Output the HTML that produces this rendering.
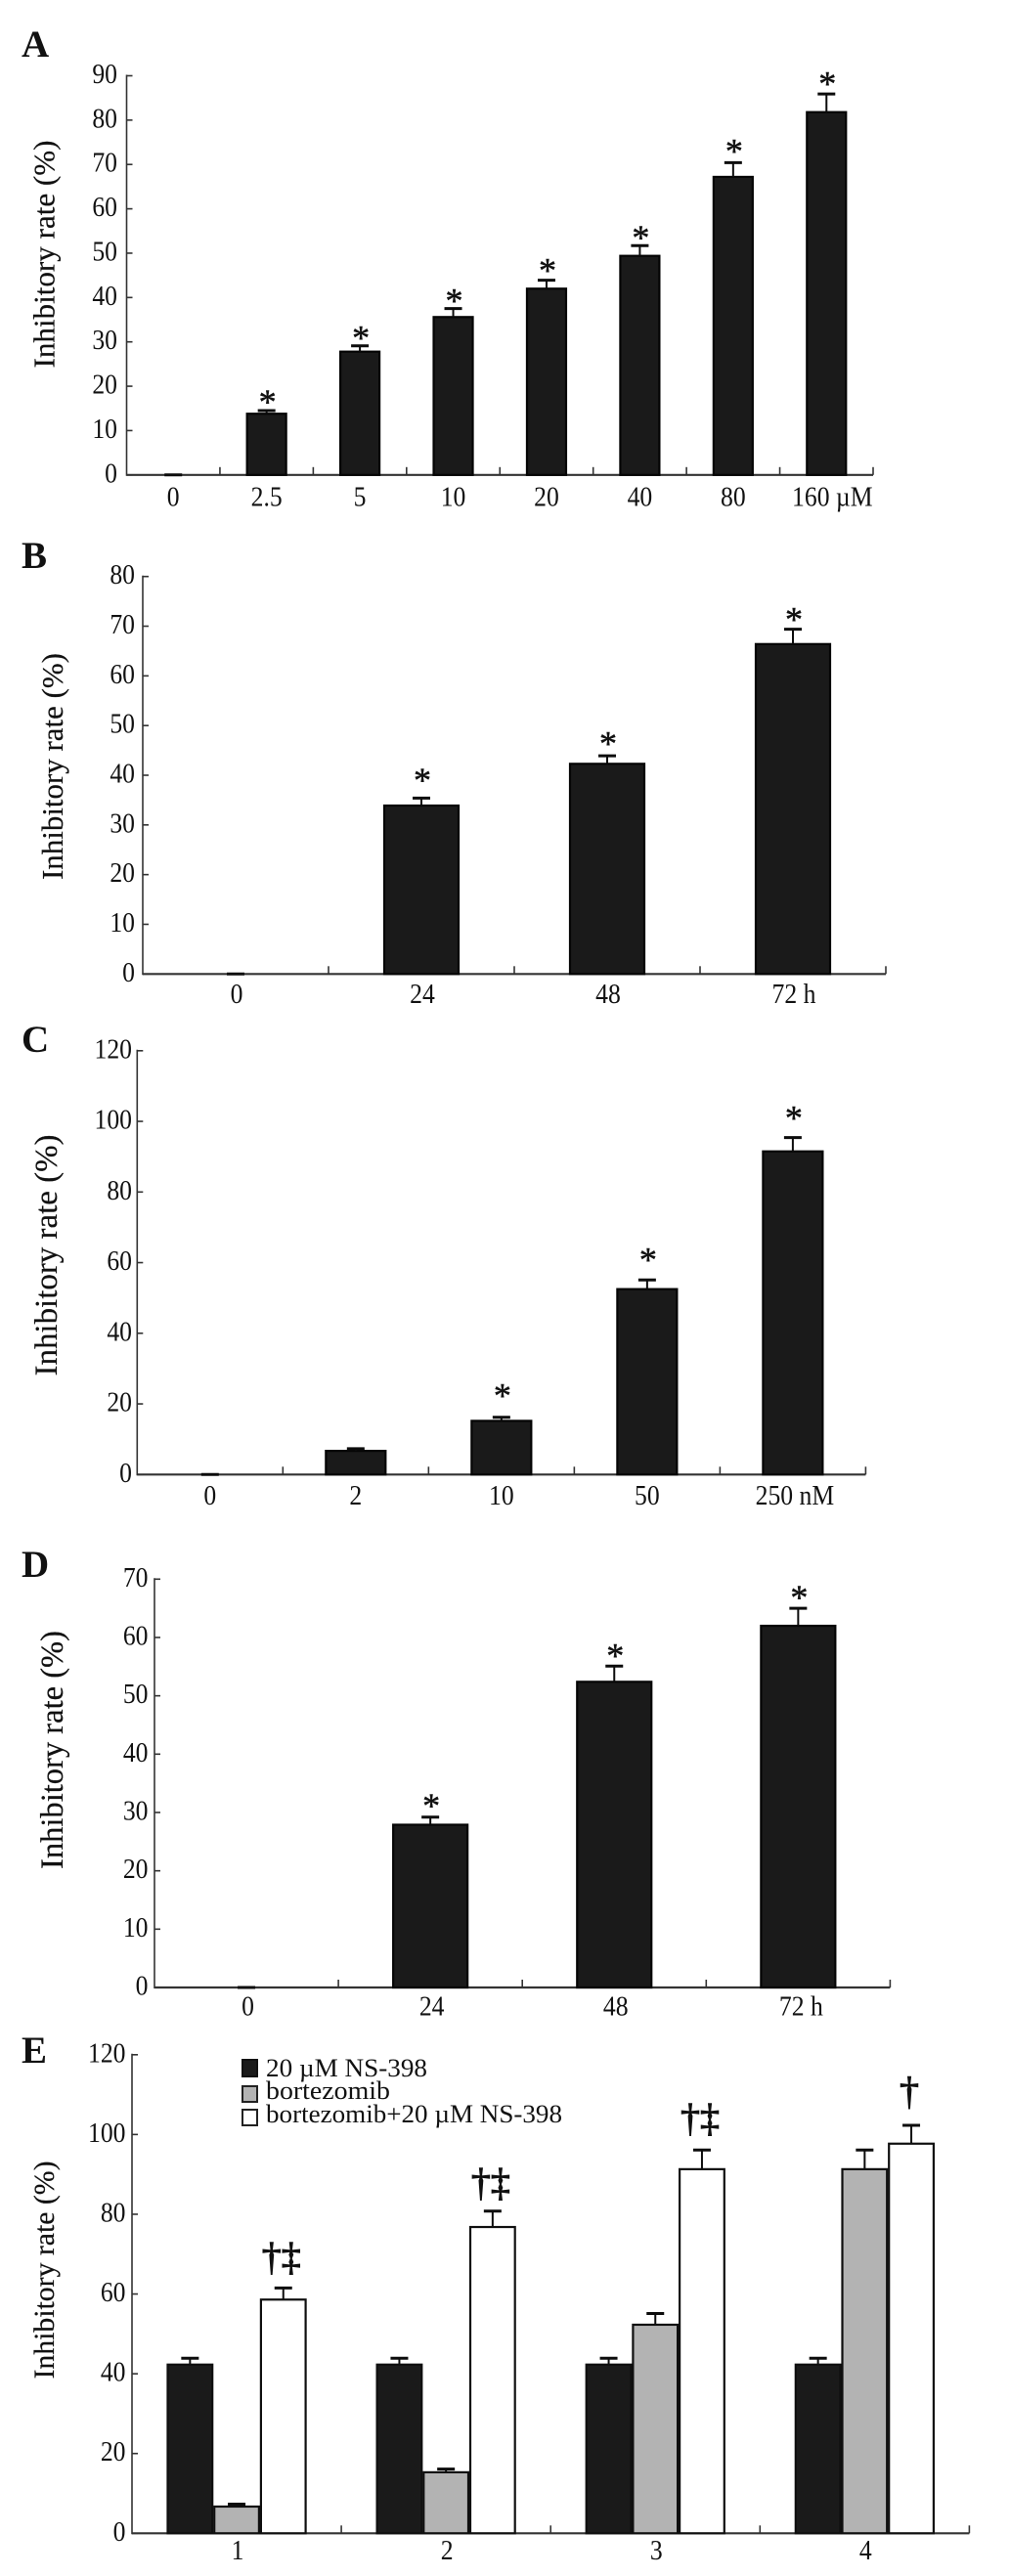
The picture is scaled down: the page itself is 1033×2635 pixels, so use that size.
<!DOCTYPE html>
<html lang="en">
<head>
<meta charset="utf-8">
<title>Inhibitory rate charts</title>
<style>
html,body{margin:0;padding:0;background:#fff;width:1033px;height:2635px;overflow:hidden}
svg{display:block;filter:blur(0.35px)}
text{font-family:"Liberation Serif","DejaVu Serif",serif;fill:#111}
</style>
</head>
<body>
<svg id="figure" xmlns="http://www.w3.org/2000/svg" width="1033" height="2635" viewBox="0 0 1033 2635">
  <rect x="0" y="0" width="1033" height="2635" fill="#fff"/>
  <text x="22" y="58" font-size="39" font-weight="bold">A</text>
  <text x="22" y="581" font-size="39" font-weight="bold">B</text>
  <text x="22" y="1076" font-size="39" font-weight="bold">C</text>
  <text x="22" y="1613" font-size="39" font-weight="bold">D</text>
  <text x="22" y="2110" font-size="39" font-weight="bold">E</text>
  <text transform="translate(55.7 260) rotate(-90)" text-anchor="middle" font-size="31" stroke="#111" stroke-width="0.2" textLength="233" lengthAdjust="spacingAndGlyphs">Inhibitory rate (%)</text>
  <text transform="translate(64 784) rotate(-90)" text-anchor="middle" font-size="31" stroke="#111" stroke-width="0.2" textLength="232" lengthAdjust="spacingAndGlyphs">Inhibitory rate (%)</text>
  <text transform="translate(58 1284) rotate(-90)" text-anchor="middle" font-size="33" stroke="#111" stroke-width="0.2" textLength="247" lengthAdjust="spacingAndGlyphs">Inhibitory rate (%)</text>
  <text transform="translate(64 1790) rotate(-90)" text-anchor="middle" font-size="32.5" stroke="#111" stroke-width="0.2" textLength="244" lengthAdjust="spacingAndGlyphs">Inhibitory rate (%)</text>
  <text transform="translate(55 2322) rotate(-90)" text-anchor="middle" font-size="30" stroke="#111" stroke-width="0.2" textLength="223" lengthAdjust="spacingAndGlyphs">Inhibitory rate (%)</text>
  <g>
    <rect x="248" y="2107" width="15" height="17" fill="#1a1a1a" stroke="#111" stroke-width="2"/>
    <text x="272" y="2124" font-size="26" textLength="165" lengthAdjust="spacingAndGlyphs">20 µM NS-398</text>
    <rect x="248" y="2134" width="15" height="16" fill="#b3b3b3" stroke="#222" stroke-width="2"/>
    <text x="272" y="2147" font-size="26" textLength="127" lengthAdjust="spacingAndGlyphs">bortezomib</text>
    <rect x="248" y="2158" width="15" height="16" fill="#fff" stroke="#222" stroke-width="2"/>
    <text x="272" y="2171" font-size="26" textLength="303" lengthAdjust="spacingAndGlyphs">bortezomib+20 µM NS-398</text>
  </g>
</svg>
<script>
// Panel A
const aCategories = ['0', '2.5', '5', '10', '20', '40', '80', '160 µM'];
const aValues = [0, 13.8, 27.8, 35.6, 42.0, 49.4, 67.2, 81.8];
const aErrors = [0, 0.7, 1.3, 1.9, 1.9, 2.3, 3.2, 4.1];
const aStarGaps = [null, 3.1, 2.9, 2.9, 3.3, 2.9, 3.7, 3.4];
const aTicks = [0, 10, 20, 30, 40, 50, 60, 70, 80, 90];

// Panel B
const bCategories = ['0', '24', '48', '72 h'];
const bValues = [0, 33.9, 42.3, 66.4];
const bErrors = [0, 1.5, 1.6, 3.0];
const bStarGaps = [null, 4.6, 3.5, 3.0];
const bTicks = [0, 10, 20, 30, 40, 50, 60, 70, 80];

// Panel C
const cCategories = ['0', '2', '10', '50', '250 nM'];
const cValues = [0, 6.7, 15.2, 52.5, 91.5];
const cErrors = [0, 0.6, 1.0, 2.6, 3.9];
const cStarGaps = [null, null, 7.6, 7.1, 7.0];
const cTicks = [0, 20, 40, 60, 80, 100, 120];

// Panel D
const dCategories = ['0', '24', '48', '72 h'];
const dValues = [0, 27.9, 52.4, 62.0];
const dErrors = [0, 1.3, 2.7, 3.0];
const dStarGaps = [null, 2.8, 2.6, 2.7];
const dTicks = [0, 10, 20, 30, 40, 50, 60, 70];

// Panel E
const eCategories = ['1', '2', '3', '4'];
const eControlValues = [42.3, 42.3, 42.3, 42.3];
const eControlErrors = [1.6, 1.6, 1.6, 1.6];
const eBortezomibValues = [6.7, 15.3, 52.3, 91.3];
const eBortezomibErrors = [0.6, 0.8, 2.8, 4.8];
const eCombinationValues = [58.6, 76.8, 91.3, 97.7];
const eCombinationErrors = [2.9, 4.0, 4.8, 4.6];
const eMarkers = ['†‡', '†‡', '†‡', '†'];
const eMarkerGaps = [7.0, 6.3, 7.2, 7.7];
const eTicks = [0, 20, 40, 60, 80, 100, 120];

const svg = document.getElementById('figure');
const NS = 'http://www.w3.org/2000/svg';
const AXIS = '#333';
const INK = '#0c0c0c';

function mk(parent, tag, attrs, name, content) {
  const el = document.createElementNS(NS, tag);
  for (const k in attrs) el.setAttribute(k, attrs[k]);
  
  
  if (content !== undefined) el.textContent = content;
  parent.appendChild(el);
  return el;
}

function line(parent, x1, y1, x2, y2, stroke, width, name) {
  return mk(parent, 'line', { x1: x1, y1: y1, x2: x2, y2: y2, stroke: stroke, 'stroke-width': width }, name);
}

function label(parent, x, y, anchor, content, name) {
  return mk(parent, 'text', {
    transform: 'translate(' + x + ' ' + y + ') scale(0.9 1)',
    'text-anchor': anchor,
    'font-size': 28.5
  }, name, content);
}

function axes(key, cfg, ticks, categories) {
  const g = mk(svg, 'g', {}, 'chart-' + key);
  const yScale = function (v) { return cfg.y0 - (v - ticks[0]) * (cfg.y0 - cfg.yTop) / (ticks[ticks.length - 1] - ticks[0]); };
  const band = (cfg.x1 - cfg.x0) / categories.length;
  const xScale = function (i) { return cfg.x0 + band * (i + 0.5); };
  return { g: g, yScale: yScale, xScale: xScale, band: band };
}

function drawAxes(key, cfg, ticks, categories, ctx) {
  const g = ctx.g;
  line(g, cfg.x0, cfg.yTop - 1, cfg.x0, cfg.y0 + 1, AXIS, 1.6, 'y-axis-' + key);
  line(g, cfg.x0, cfg.y0, cfg.x1, cfg.y0, AXIS, 2.2, 'x-axis-' + key);
  ticks.forEach(function (t) {
    const y = ctx.yScale(t);
    line(g, cfg.x0, y, cfg.x0 + 6, y, AXIS, 1.6, 'y-tick-' + key + '-' + t);
    label(g, cfg.yLabelX, y + 7.5, 'end', String(t), 'y-tick-label-' + key + '-' + t);
  });
  categories.forEach(function (c, i) {
    const edge = cfg.x0 + ctx.band * (i + 1);
    line(g, edge, cfg.y0, edge, cfg.y0 - 8, AXIS, 1.6, 'x-tick-' + key + '-' + i);
    const shift = i === categories.length - 1 ? cfg.lastShift : cfg.shift;
    label(g, ctx.xScale(i) + shift, cfg.xLabelY, 'middle', c, 'x-tick-label-' + key + '-' + c);
  });
}

function errorBar(g, x, value, err, yScale, name) {
  const top = yScale(value + err);
  line(g, x, yScale(value), x, top, INK, 2, name + '-stem');
  line(g, x - 9, top, x + 9, top, INK, 3, name + '-cap');
}

function drawSimple(key, cfg, categories, values, errors, gaps, ticks) {
  const ctx = axes(key, cfg, ticks, categories);
  drawAxes(key, cfg, ticks, categories, ctx);
  categories.forEach(function (c, i) {
    const cx = ctx.xScale(i);
    if (values[i] > 0) {
      const yt = ctx.yScale(values[i]);
      mk(ctx.g, 'rect', {
        x: cx - cfg.barW / 2 + 1, y: yt, width: cfg.barW - 2, height: cfg.y0 - yt,
        fill: '#1a1a1a', stroke: '#050505', 'stroke-width': 2.2
      }, 'bar-' + key + '-' + c);
    }
    errorBar(ctx.g, cx, values[i], errors[i], ctx.yScale, 'error-' + key + '-' + c);
    if (gaps[i] !== null) {
      mk(ctx.g, 'text', {
        x: cx + 1, y: ctx.yScale(values[i] + errors[i] + gaps[i]) + 17,
        'text-anchor': 'middle', 'font-size': 36, stroke: '#111', 'stroke-width': 0.5
      }, 'significance-star-' + key + '-' + c, '*');
    }
  });
}

function drawGrouped() {
  const key = 'e';
  const cfg = { x0: 135, x1: 991.4, y0: 2591.3, yTop: 2101.8, yLabelX: 128.5, xLabelY: 2618, shift: 1, lastShift: 1 };
  const ctx = axes(key, cfg, eTicks, eCategories);
  drawAxes(key, cfg, eTicks, eCategories, ctx);
  const barW = 47.7;
  const series = [
    { id: 'control', values: eControlValues, errors: eControlErrors, fill: '#1a1a1a' },
    { id: 'bortezomib', values: eBortezomibValues, errors: eBortezomibErrors, fill: '#b3b3b3' },
    { id: 'combination', values: eCombinationValues, errors: eCombinationErrors, fill: '#fff' }
  ];
  eCategories.forEach(function (c, i) {
    const cx = ctx.xScale(i);
    series.forEach(function (s, j) {
      const bx = cx + (j - 1) * barW;
      const yt = ctx.yScale(s.values[i]);
      errorBar(ctx.g, bx, s.values[i], s.errors[i], ctx.yScale, 'error-' + s.id + '-' + c);
      mk(ctx.g, 'rect', {
        x: bx - barW / 2 + 1, y: yt, width: barW - 2, height: cfg.y0 - yt,
        fill: s.fill, stroke: '#0f0f0f', 'stroke-width': 2.2
      }, 'bar-' + s.id + '-' + c);
    });
    const wx = cx + barW;
    const top = eCombinationValues[i] + eCombinationErrors[i] + eMarkerGaps[i];
    mk(ctx.g, 'text', {
      x: wx - 2, y: ctx.yScale(top) + 10,
      'text-anchor': 'middle', 'font-size': 40, stroke: '#111', 'stroke-width': 1
    }, 'significance-marker-' + c, eMarkers[i]);
  });
}

drawSimple('a', { x0: 129.5, x1: 893, y0: 485.8, yTop: 77.5, barW: 42, yLabelX: 120, xLabelY: 517.7, shift: 0, lastShift: 6 }, aCategories, aValues, aErrors, aStarGaps, aTicks);
drawSimple('b', { x0: 146, x1: 906, y0: 996.3, yTop: 589.7, barW: 78, yLabelX: 138, xLabelY: 1026, shift: 1, lastShift: 1 }, bCategories, bValues, bErrors, bStarGaps, bTicks);
drawSimple('c', { x0: 140.3, x1: 885.4, y0: 1508.3, yTop: 1074.8, barW: 63, yLabelX: 135, xLabelY: 1539, shift: 0, lastShift: 2 }, cCategories, cValues, cErrors, cStarGaps, cTicks);
drawSimple('d', { x0: 158, x1: 910.4, y0: 2033, yTop: 1615.3, barW: 78, yLabelX: 151.5, xLabelY: 2061.7, shift: 1.5, lastShift: 3 }, dCategories, dValues, dErrors, dStarGaps, dTicks);
drawGrouped();
</script>
</body>
</html>
